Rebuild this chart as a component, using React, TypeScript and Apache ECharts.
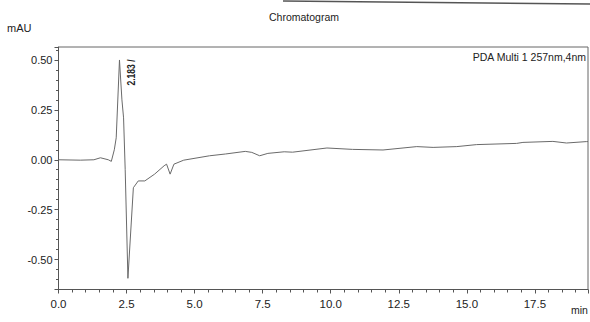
import React, { useEffect, useRef } from "react";
import * as echarts from "echarts";

const times = [
  0, 0.8, 1.3, 1.54, 1.83, 1.94, 2.05, 2.12, 2.24, 2.33, 2.39, 2.45, 2.55, 2.75,
  2.93, 3.17, 3.53, 3.88, 3.97, 4.1, 4.24, 4.6, 5.55, 6.14, 6.86, 7.1, 7.39,
  7.69, 8.29, 8.6, 9.86, 10.8, 11.92, 13.16, 13.76, 14.63, 15.36, 16.83, 17.06,
  18.16, 18.66, 19.39, 19.45,
];
const signal = [
  0.0, -0.002, 0.0, 0.01, 0.0, -0.008, 0.05, 0.11, 0.5, 0.3, 0.21, -0.05,
  -0.594, -0.14, -0.106, -0.106, -0.072, -0.03, -0.022, -0.072, -0.022, -0.002,
  0.02, 0.029, 0.042, 0.037, 0.02, 0.032, 0.04, 0.038, 0.059, 0.052, 0.049,
  0.066, 0.062, 0.066, 0.076, 0.082, 0.087, 0.092, 0.084, 0.091, 0.091,
];

const title = "Chromatogram";
const yName = "mAU";
const xName = "min";
const channel = "PDA Multi 1 257nm,4nm";
const peakLabel = "2.183 /";

export default function App() {
  const ref = useRef<HTMLDivElement>(null);
  useEffect(() => {
    if (!ref.current) return;
    const chart = echarts.init(ref.current, null, { renderer: "svg" });
    const font = "'Liberation Sans', Arial, sans-serif";
    const axisColor = "#555";
    chart.setOption({
      animation: false,
      backgroundColor: "#ffffff",
      grid: {
        left: 58.5,
        right: 2,
        top: 47,
        bottom: 32.5,
        show: true,
        borderColor: "#666",
        borderWidth: 1,
        containLabel: false,
      },
      xAxis: {
        type: "value",
        min: 0,
        max: 19.45,
        minInterval: 2.5,
        maxInterval: 2.5,
        axisLine: { show: true, onZero: false, lineStyle: { color: axisColor, width: 1 } },
        axisTick: { show: true, inside: false, length: 4, lineStyle: { color: axisColor } },
        minorTick: { show: true, splitNumber: 5, length: 3, lineStyle: { color: axisColor } },
        splitLine: { show: false },
        axisLabel: {
          show: true,
          margin: 8,
          color: "#222",
          fontFamily: font,
          fontSize: 11.5,
          showMaxLabel: false,
          formatter: (v: number) => v.toFixed(1),
        },
      },
      yAxis: {
        type: "value",
        min: -0.65,
        max: 0.565,
        minInterval: 0.25,
        maxInterval: 0.25,
        axisLine: { show: true, onZero: false, lineStyle: { color: axisColor, width: 1 } },
        axisTick: { show: true, inside: false, length: 4, lineStyle: { color: axisColor } },
        minorTick: { show: true, splitNumber: 5, length: 2.5, lineStyle: { color: axisColor } },
        splitLine: { show: false },
        axisLabel: {
          show: true,
          margin: 6,
          color: "#222",
          fontFamily: font,
          fontSize: 11,
          showMinLabel: false,
          showMaxLabel: false,
          formatter: (v: number) => v.toFixed(2),
        },
      },
      series: [
        {
          type: "line",
          data: times.map((t, i) => [t, signal[i]]),
          showSymbol: false,
          symbol: "none",
          smooth: false,
          lineStyle: { color: "#6a6a6a", width: 1 },
          clip: true,
        },
      ],
      graphic: [
        {
          type: "line",
          shape: { x1: 283, y1: 1, x2: 590, y2: 4 },
          style: { stroke: "#555", lineWidth: 1.5 },
        },
        {
          type: "text",
          x: 304,
          y: 17,
          style: {
            text: title,
            fontFamily: font,
            fontSize: 10.5,
            fill: "#222",
            align: "center",
            verticalAlign: "middle",
          },
        },
        {
          type: "text",
          x: 7,
          y: 28,
          style: {
            text: yName,
            fontFamily: font,
            fontSize: 11,
            fill: "#222",
            align: "left",
            verticalAlign: "middle",
          },
        },
        {
          type: "text",
          x: 586,
          y: 57,
          style: {
            text: channel,
            fontFamily: font,
            fontSize: 10.5,
            fill: "#222",
            align: "right",
            verticalAlign: "middle",
          },
        },
        {
          type: "text",
          x: 131,
          y: 72.5,
          rotation: Math.PI / 2,
          scaleX: 0.78,
          style: {
            text: peakLabel,
            fontFamily: font,
            fontSize: 11,
            fontWeight: "bold",
            fill: "#222",
            align: "center",
            verticalAlign: "middle",
          },
        },
        {
          type: "text",
          x: 571,
          y: 310,
          style: {
            text: xName,
            fontFamily: font,
            fontSize: 10.5,
            fill: "#222",
            align: "left",
            verticalAlign: "middle",
          },
        },
      ],
    });
    return () => chart.dispose();
  }, []);
  return <div ref={ref} style={{ width: 590, height: 322, position: "absolute", left: 0, top: 0 }} />;
}
